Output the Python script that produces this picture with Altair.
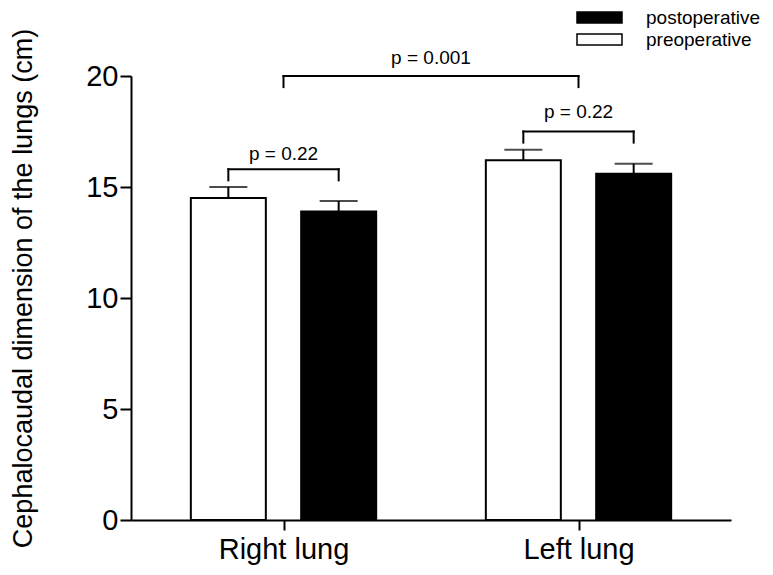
import altair as alt
import pandas as pd

# ---- data ----
lungs = ["Right lung", "Left lung"]
groups = ["preoperative", "postoperative"]
pre_means = [14.5, 16.2]
pre_sem = [0.5, 0.48]
post_means = [13.9, 15.6]
post_sem = [0.47, 0.45]

bracket_labels = ["p = 0.22", "p = 0.22", "p = 0.001"]
bracket_low = [15.3, 17.0, 19.5]
bracket_high = [15.8, 17.5, 20.0]
bracket_text_y = [16.2, 18.1, 20.55]

# ---- layout constants (style) ----
SHIFT = {"preoperative": -0.187, "postoperative": 0.187}
FONT = "Liberation Sans"

rows = []
for i, lung in enumerate(lungs):
    idx = i + 1
    rows.append({"lung": lung, "idx": idx, "group": "preoperative",
                 "mean": pre_means[i], "sem": pre_sem[i]})
    rows.append({"lung": lung, "idx": idx, "group": "postoperative",
                 "mean": post_means[i], "sem": post_sem[i]})
df = pd.DataFrame(rows)
df["pos"] = df["idx"] + df["group"].map(SHIFT)
df["upper"] = df["mean"] + df["sem"]

# brackets: within each lung (pre vs post), then between lungs
b_left = [1 + SHIFT["preoperative"], 2 + SHIFT["preoperative"], 1]
b_right = [1 + SHIFT["postoperative"], 2 + SHIFT["postoperative"], 2]
bdf = pd.DataFrame({
    "left": b_left, "right": b_right,
    "low": bracket_low, "high": bracket_high,
    "label": bracket_labels, "ty": bracket_text_y,
})
bdf["mid"] = (bdf["left"] + bdf["right"]) / 2

xscale = alt.Scale(domain=[0.5, 2.5], nice=False, zero=False)
yscale = alt.Scale(domain=[0, 20], nice=False)

xaxis = alt.Axis(values=[1, 2], labelExpr="datum.value == 1 ? 'Right lung' : 'Left lung'",
                 title=None, tickSize=10, tickWidth=2, domainWidth=2,
                 labelFontSize=29, labelPadding=5, labelColor="black",
                 tickColor="black", domainColor="black", grid=False, labelFont=FONT)
yaxis = alt.Axis(values=[0, 5, 10, 15, 20], title="Cephalocaudal dimension of the lungs (cm)",
                 tickSize=11, tickWidth=2, domainWidth=2, labelFontSize=29, labelPadding=2,
                 labelColor="black", tickColor="black", domainColor="black", grid=False,
                 titleFontSize=27, titleFontWeight="normal", titleColor="black", titleFont=FONT,
                 labelFont=FONT, titleAngle=270, titleAlign="center", titleBaseline="bottom",
                 titleX=-94, titleY=212)

base = alt.Chart(df)

bars = base.mark_bar(size=75, stroke="black", strokeWidth=2).encode(
    x=alt.X("pos:Q", scale=xscale, axis=xaxis),
    y=alt.Y("mean:Q", scale=yscale, axis=yaxis),
    fill=alt.Fill("group:N",
                  scale=alt.Scale(domain=["postoperative", "preoperative"], range=["black", "white"]),
                  legend=alt.Legend(title=None, orient="none", legendX=459, legendY=-68,
                                    symbolType="M-3.75,-0.92H3.75V0.92H-3.75Z", symbolSize=144,
                                    symbolStrokeColor="black", symbolStrokeWidth=1.5,
                                    labelFontSize=19, labelFont=FONT, labelColor="black",
                                    labelOffset=37, rowPadding=2, padding=0)),
)

stems = base.mark_rule(color="black", strokeWidth=2).encode(
    x="pos:Q", y="mean:Q", y2="upper:Q"
)
caps = base.mark_tick(color="black", thickness=2, size=38, orient="horizontal").encode(
    x="pos:Q", y="upper:Q"
)

bchart = alt.Chart(bdf)
b_l = bchart.mark_rule(color="black", strokeWidth=2, strokeCap="square").encode(
    x="left:Q", y="low:Q", y2="high:Q")
b_r = bchart.mark_rule(color="black", strokeWidth=2, strokeCap="square").encode(
    x="right:Q", y="low:Q", y2="high:Q")
b_h = bchart.mark_rule(color="black", strokeWidth=2, strokeCap="square").encode(
    x="left:Q", x2="right:Q", y="high:Q")
b_t = bchart.mark_text(fontSize=19, font=FONT, color="black", baseline="alphabetic",
                       align="center").encode(x="mid:Q", y="ty:Q", text="label:N")

chart = alt.layer(bars, stems, caps, b_l, b_r, b_h, b_t).properties(
    width=600, height=444,
    autosize=alt.AutoSizeParams(type="none"),
    padding={"left": 123, "top": 68, "right": 34, "bottom": 55},
).configure(font=FONT).configure_view(stroke=None)

chart.save("out.html", embed_options={"renderer": "svg", "actions": False})
